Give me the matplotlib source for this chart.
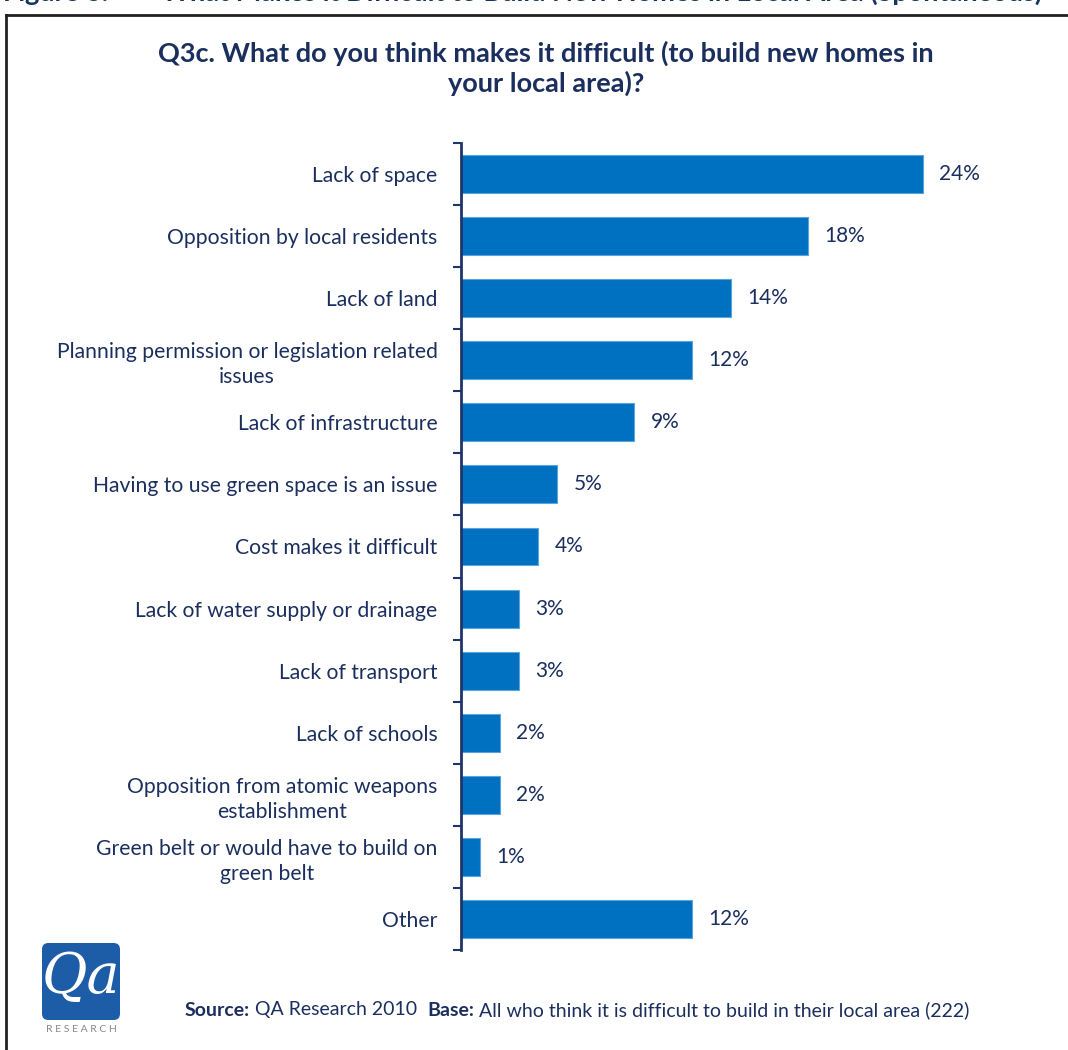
import matplotlib
matplotlib.use("Agg")
import matplotlib.pyplot as plt
from matplotlib.patches import FancyBboxPatch
from matplotlib.lines import Line2D

categories = [
    "Lack of space",
    "Opposition by local residents",
    "Lack of land",
    "Planning permission or legislation related\nissues",
    "Lack of infrastructure",
    "Having to use green space is an issue",
    "Cost makes it difficult",
    "Lack of water supply or drainage",
    "Lack of transport",
    "Lack of schools",
    "Opposition from atomic weapons\nestablishment",
    "Green belt or would have to build on\ngreen belt",
    "Other",
]
values = [24, 18, 14, 12, 9, 5, 4, 3, 3, 2, 2, 1, 12]
value_labels = ["24%", "18%", "14%", "12%", "9%", "5%", "4%", "3%", "3%", "2%", "2%", "1%", "12%"]

title = "Q3c. What do you think makes it difficult (to build new homes in\nyour local area)?"
fig_title = "Figure 6:        What Makes it Difficult to Build New Homes in Local Area (Spontaneous)"

plt.rcParams['font.family'] = ['Lato', 'DejaVu Sans']
navy = "#1B2F5E"
bar_color = "#0070C0"

W, H = 1068, 1050
fig = plt.figure(figsize=(W / 100, H / 100), dpi=100)

ax_left = 461 / W
ax_right = 1040 / W
ax_bottom = (H - 950) / H
ax_top = (H - 143) / H
ax = fig.add_axes([ax_left, ax_bottom, ax_right - ax_left, ax_top - ax_bottom])

xmax = (1040 - 461) / 19.25
ys = list(range(len(categories)))
ax.barh(ys, values, height=0.61, color=bar_color, edgecolor="#5DA3DD", linewidth=0.8)
ax.set_ylim(len(categories) - 0.5, -0.5)
ax.set_xlim(0, xmax)

for y, v, lab in zip(ys, values, value_labels):
    ax.text(v + 0.85, y, lab, va="center", ha="left", fontsize=15, color=navy)

ax.set_yticks(ys)
ax.set_yticklabels(categories, fontsize=15.2, color=navy, multialignment="center",
                   linespacing=1.3)
ax.set_yticks([i - 0.5 for i in range(len(categories) + 1)], minor=True)
ax.tick_params(axis="y", which="major", length=0, pad=17)
ax.tick_params(axis="y", which="minor", length=6, width=1.5, color="#1F3469", direction="out")
ax.set_xticks([])
for s in ["top", "right", "bottom"]:
    ax.spines[s].set_visible(False)
ax.spines["left"].set_color("#1F3469")
ax.spines["left"].set_linewidth(2)

# chart title
fig.text(546 / W, 1 - 68.5 / H, title, ha="center", va="center", fontsize=19.5,
         fontweight="bold", color=navy, linespacing=1.25)

# cut-off figure caption at the very top
fig.text(1042 / W, 1 - (-8) / H, fig_title, ha="right", va="center", fontsize=19.5,
         fontweight="bold", color="#17365D")

# frame
fig.add_artist(Line2D([6 / W, 6 / W], [0, 1 - 15 / H], transform=fig.transFigure,
                      color="#222222", linewidth=2))
fig.add_artist(Line2D([6 / W, 1], [1 - 15 / H, 1 - 15 / H], transform=fig.transFigure,
                      color="#222222", linewidth=2))

# logo
logo = FancyBboxPatch((42 / W, (H - 1020) / H), 78 / W, 77 / H,
                      boxstyle="round,pad=0,rounding_size=0.006",
                      transform=fig.transFigure, facecolor="#1D5CA6", edgecolor="none")
fig.add_artist(logo)
fig.text(81 / W, (H - 978) / H, "Qa", ha="center", va="center", fontsize=40,
         family="DejaVu Serif", style="italic", color="white")
fig.text(81 / W, (H - 1030) / H, "R E S E A R C H", ha="center", va="center",
         fontsize=7.5, color="#888888")

# source line
fig.canvas.draw()
renderer = fig.canvas.get_renderer()
pieces = [("Source:", "bold"), (" QA Research 2010  ", "normal"), ("Base:", "bold"),
          (" All who think it is difficult to build in their local area (222)", "normal")]
x = 185
for txt, wt in pieces:
    t = fig.text(x / W, (H - 1010) / H, txt, ha="left", va="center", fontsize=14,
                 fontweight=wt, color=navy)
    bb = t.get_window_extent(renderer=renderer)
    x += bb.width

fig.savefig("out.png", dpi=100)
